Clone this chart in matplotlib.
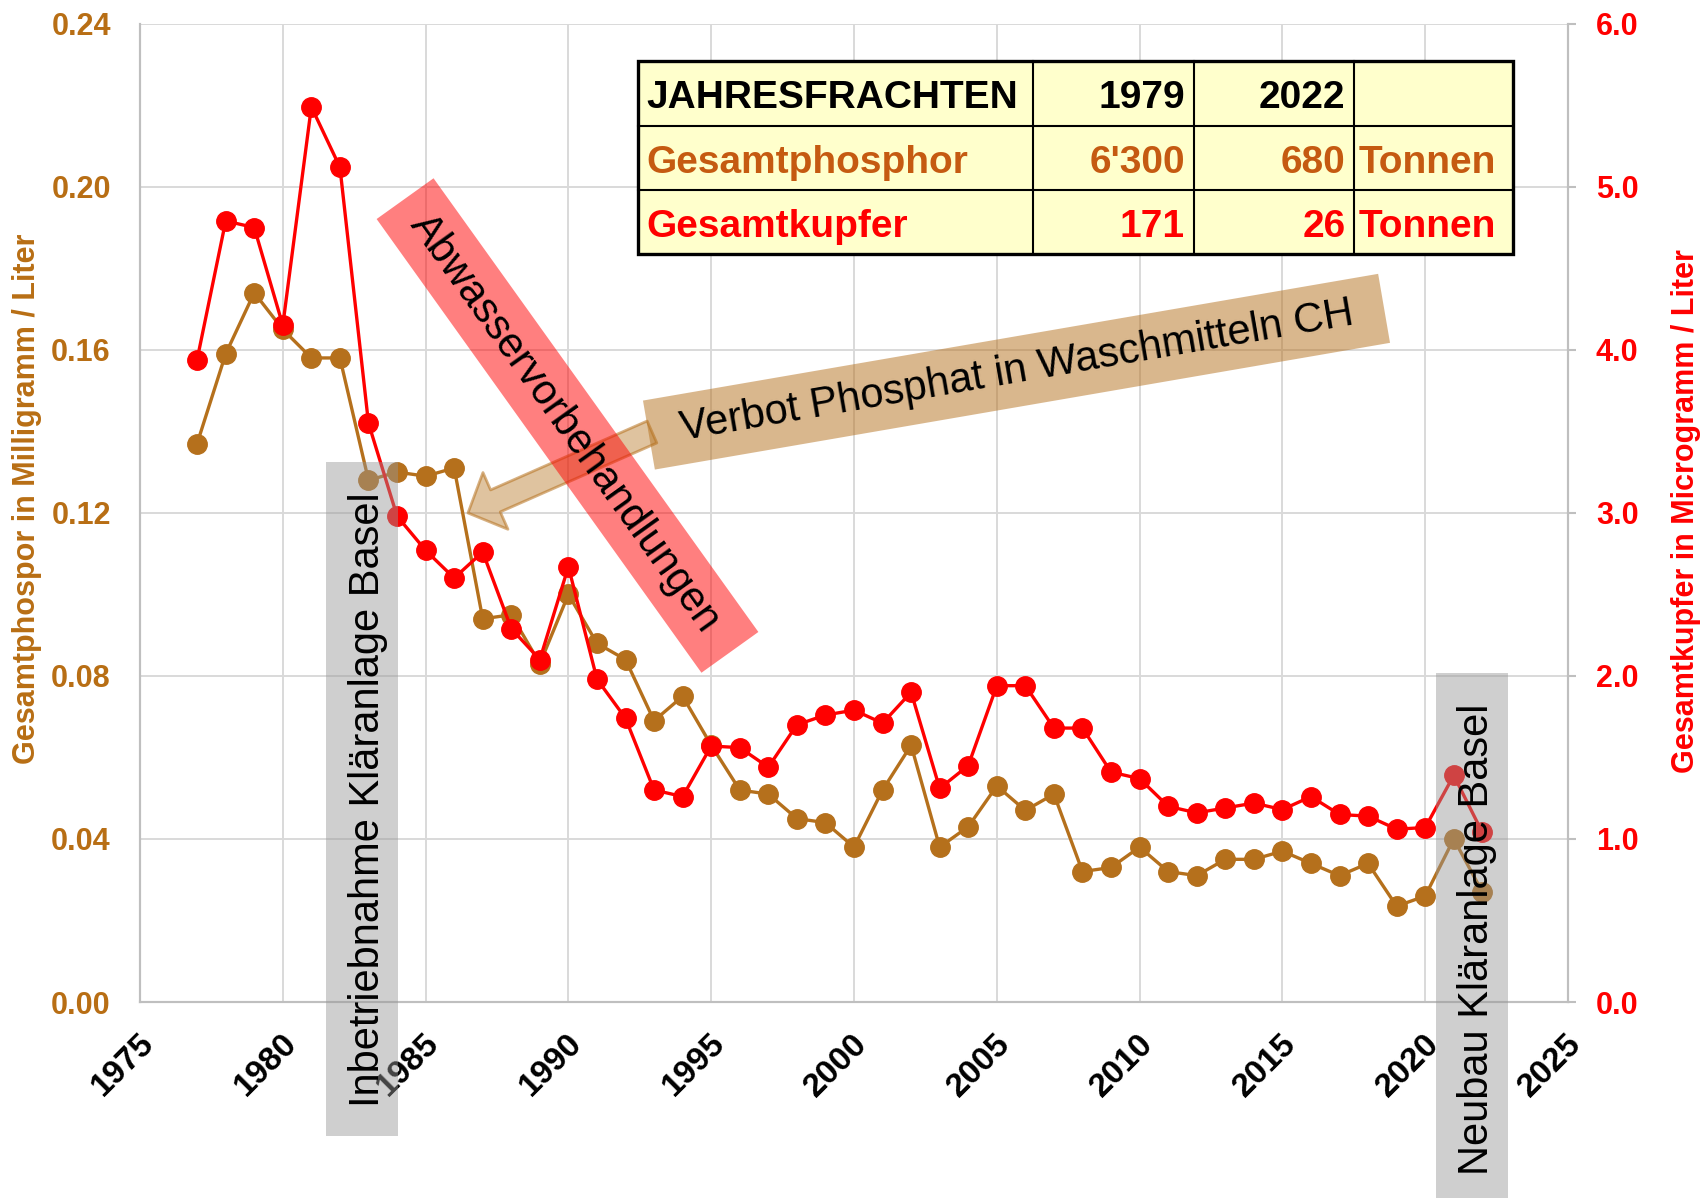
import matplotlib
matplotlib.use("Agg")
import matplotlib.pyplot as plt
from matplotlib.patches import Rectangle, FancyArrowPatch, ArrowStyle
from matplotlib.lines import Line2D
from matplotlib.transforms import Affine2D, ScaledTranslation

plt.rcParams['font.family'] = ['Liberation Sans', 'DejaVu Sans']

# Jahreswerte Rhein bei Basel
years = list(range(1977, 2023))
phosphor = [0.137, 0.159, 0.174, 0.165, 0.158, 0.158, 0.128, 0.130, 0.129, 0.131,
            0.094, 0.095, 0.083, 0.100, 0.088, 0.084, 0.069, 0.075, 0.063, 0.052,
            0.051, 0.045, 0.044, 0.038, 0.052, 0.063, 0.038, 0.043, 0.053, 0.047,
            0.051, 0.032, 0.033, 0.038, 0.032, 0.031, 0.035, 0.035, 0.037, 0.034,
            0.031, 0.034, 0.0235, 0.026, 0.040, 0.027]
kupfer = [3.94, 4.79, 4.75, 4.15, 5.49, 5.12, 3.55, 2.98, 2.77, 2.60,
          2.76, 2.29, 2.10, 2.67, 1.98, 1.74, 1.30, 1.26, 1.57, 1.56,
          1.44, 1.70, 1.76, 1.79, 1.71, 1.90, 1.31, 1.45, 1.94, 1.94,
          1.68, 1.68, 1.41, 1.37, 1.20, 1.16, 1.19, 1.22, 1.18, 1.26,
          1.15, 1.14, 1.06, 1.07, 1.39, 1.04]

x_ticks = list(range(1975, 2026, 5))
y_left_ticks = [0.00, 0.04, 0.08, 0.12, 0.16, 0.20, 0.24]
y_right_ticks = [0.0, 1.0, 2.0, 3.0, 4.0, 5.0, 6.0]

tab_head = ["JAHRESFRACHTEN", "1979", "2022", ""]
tab_p = ["Gesamtphosphor", "6'300", "680", "Tonnen"]
tab_cu = ["Gesamtkupfer", "171", "26", "Tonnen"]

BROWN = '#b5701c'
BROWN_TXT = '#b86e14'
BROWN_TAB = '#c55a11'
RED = '#ff0000'
GRID = '#d9d9d9'
SPINE = '#bfbfbf'

W, H, DPI = 1703, 1198, 100
fig = plt.figure(figsize=(W / DPI, H / DPI), dpi=DPI)
# pixel coordinates measured from the top-left corner
px = Affine2D().scale(1 / DPI, -1 / DPI).translate(0, H / DPI) + fig.dpi_scale_trans

ax = fig.add_axes([140 / W, 1 - 1002 / H, (1568 - 140) / W, (1002 - 23.7) / H])
ax2 = ax.twinx()

ax.plot(years, phosphor, color=BROWN, lw=2.4, marker='o', ms=14, zorder=3)
ax2.plot(years, kupfer, color=RED, lw=2.4, marker='o', ms=14, zorder=3)

ax.set_xlim(1975, 2025)
ax.set_ylim(0, 0.24)
ax2.set_ylim(0, 6)
ax.set_xticks(x_ticks)
ax.set_yticks(y_left_ticks)
ax2.set_yticks(y_right_ticks)
ax.set_yticklabels([f'{v:.2f}' for v in y_left_ticks])
ax2.set_yticklabels([f'{v:.1f}' for v in y_right_ticks])

ax.set_axisbelow(True)
ax.grid(True, color=GRID, lw=1.4)
for a in (ax, ax2):
    a.spines['top'].set_visible(False)
    for s in ('left', 'bottom', 'right'):
        a.spines[s].set_color(SPINE)
        a.spines[s].set_linewidth(1.5)

ax.tick_params(axis='y', length=0, pad=21, labelsize=22, labelcolor=BROWN_TXT)
ax.tick_params(axis='x', length=0, pad=0, labelsize=24)
ax2.tick_params(axis='y', length=6, width=1.5, color=SPINE, pad=14,
                labelsize=22, labelcolor=RED)
for lab in ax.get_yticklabels() + ax2.get_yticklabels():
    lab.set_fontweight('bold')
for lab in ax.get_xticklabels():
    lab.set_fontweight('bold')
    lab.set_rotation(45)
    lab.set_ha('right')
    lab.set_va('center')
    lab.set_rotation_mode('anchor')
    lab.set_transform(lab.get_transform() + ScaledTranslation(0.09, -0.37, fig.dpi_scale_trans))

fig.text(26.7, 499, 'Gesamtphospor in Milligramm / Liter', transform=px, rotation=90,
         ha='center', va='center', fontsize=22, fontweight='bold', color=BROWN_TXT)
fig.text(1686, 511, 'Gesamtkupfer in Microgramm / Liter', transform=px, rotation=90,
         ha='center', va='center', fontsize=22, fontweight='bold', color=RED)

# Pfeil und Hinweis Phosphatverbot
arrow = FancyArrowPatch((652, 432), (468, 513), transform=px,
                        arrowstyle=ArrowStyle.Simple(head_length=30, head_width=62, tail_width=24),
                        mutation_scale=72 / DPI, shrinkA=0, shrinkB=0,
                        fc=(0.71, 0.44, 0.11, 0.42), ec=(0.71, 0.44, 0.11, 0.55), lw=2, zorder=6)
fig.add_artist(arrow)

box_b = Rectangle((-373, -35), 746, 70, fc=BROWN, alpha=0.5, ec='none', zorder=6,
                  transform=Affine2D().rotate_deg(-9.78).translate(1016.5, 371.7) + px)
fig.add_artist(box_b)
fig.text(1016.5, 371.7, 'Verbot Phosphat in Waschmitteln CH', transform=px, rotation=9.78,
         rotation_mode='anchor', ha='center', va='center', fontsize=30, zorder=6.5)

box_r = Rectangle((-279, -35), 558, 70, fc=RED, alpha=0.5, ec='none', zorder=7,
                  transform=Affine2D().rotate_deg(54.4).translate(567.5, 425.5) + px)
fig.add_artist(box_r)
fig.text(565, 423, 'Abwasservorbehandlungen', transform=px, rotation=-54.4,
         rotation_mode='anchor', ha='center', va='center', fontsize=30, zorder=7.5)

# graue Kästchen Kläranlage
fig.add_artist(Rectangle((326, 461.5), 71.5, 674, transform=px, fc='#969696', alpha=0.45,
                         ec='none', zorder=8))
fig.text(379.5, 800, 'Inbetriebnahme Kläranlage Basel', transform=px, rotation=90,
         rotation_mode='anchor', ha='center', va='baseline', fontsize=30, zorder=8.5)
fig.add_artist(Rectangle((1436, 673), 72, 530, transform=px, fc='#969696', alpha=0.45,
                         ec='none', zorder=8))
fig.text(1487.6, 939, 'Neubau Kläranlage Basel', transform=px, rotation=90,
         rotation_mode='anchor', ha='center', va='baseline', fontsize=30, zorder=8.5)

# Tabelle Jahresfrachten
cols = [638, 1033.3, 1193.9, 1354.3, 1512.7]
rows = [61.2, 125.5, 190.2, 253.7]
fig.add_artist(Rectangle((cols[0], rows[0]), cols[-1] - cols[0], rows[-1] - rows[0],
                         transform=px, fc='#ffffcc', ec='none', zorder=9))
for xc in cols[1:-1]:
    fig.add_artist(Line2D([xc, xc], [rows[0], rows[-1]], transform=px, color='black', lw=1.5, zorder=9.2))
for yr in rows[1:-1]:
    fig.add_artist(Line2D([cols[0], cols[-1]], [yr, yr], transform=px, color='black', lw=1.5, zorder=9.2))
fig.add_artist(Rectangle((cols[0], rows[0]), cols[-1] - cols[0], rows[-1] - rows[0],
                         transform=px, fc='none', ec='black', lw=2.4, zorder=9.3))

for r, (cells, colr) in enumerate([(tab_head, 'black'), (tab_p, BROWN_TAB), (tab_cu, RED)]):
    yc = (rows[r] + rows[r + 1]) / 2 + 5
    fig.text(cols[0] + 8, yc, cells[0], transform=px, ha='left', va='center',
             fontsize=28, fontweight='bold', color=colr, zorder=9.5)
    fig.text(cols[2] - 9, yc, cells[1], transform=px, ha='right', va='center',
             fontsize=28, fontweight='bold', color=colr, zorder=9.5)
    fig.text(cols[3] - 9, yc, cells[2], transform=px, ha='right', va='center',
             fontsize=28, fontweight='bold', color=colr, zorder=9.5)
    fig.text(cols[3] + 4, yc, cells[3], transform=px, ha='left', va='center',
             fontsize=28, fontweight='bold', color=colr, zorder=9.5)

fig.savefig('out.png', dpi=DPI)
